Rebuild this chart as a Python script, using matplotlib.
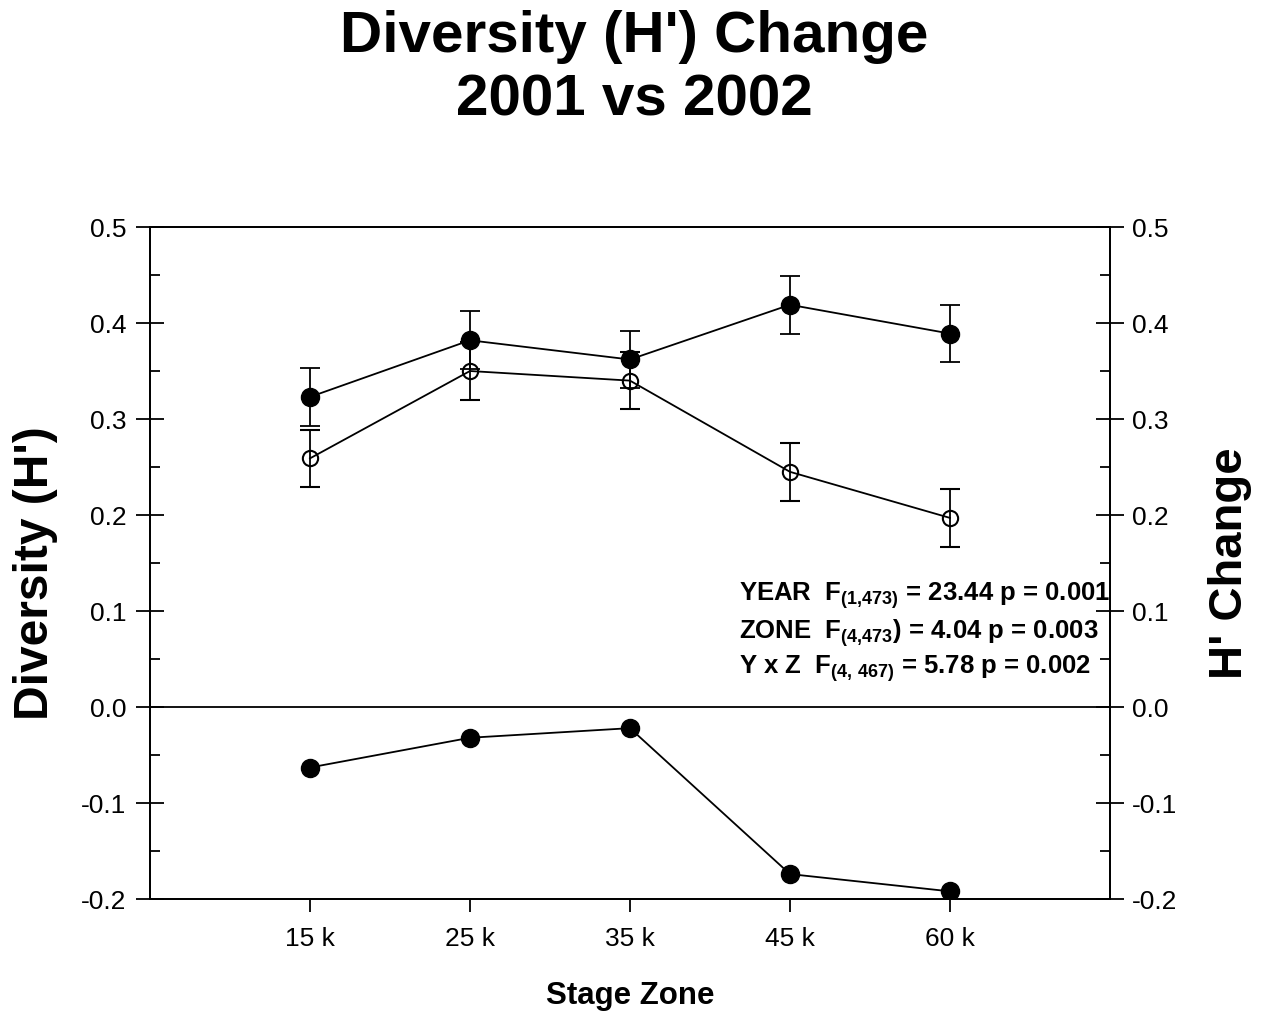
import matplotlib
matplotlib.use("Agg")
import matplotlib.pyplot as plt
from matplotlib.ticker import MultipleLocator
import numpy as np

plt.rcParams['font.family'] = ['Liberation Sans', 'DejaVu Sans']
plt.rcParams['mathtext.fontset'] = 'custom'
plt.rcParams['mathtext.rm'] = 'Liberation Sans:bold'
plt.rcParams['mathtext.bf'] = 'Liberation Sans:bold'
plt.rcParams['mathtext.it'] = 'Liberation Sans:bold'

zones = ["15 k", "25 k", "35 k", "45 k", "60 k"]
h_2001 = [0.323, 0.382, 0.362, 0.419, 0.389]
err_2001 = [0.03, 0.03, 0.03, 0.03, 0.03]
h_2002 = [0.259, 0.350, 0.340, 0.245, 0.197]
err_2002 = [0.03, 0.03, 0.03, 0.03, 0.03]
h_change = [-0.063, -0.032, -0.022, -0.174, -0.192]

x = np.arange(1, len(zones) + 1)

fig = plt.figure(figsize=(12.72, 10.13), dpi=100)
ax = fig.add_axes([0.1179, 0.1125, 0.7547, 0.6634])

ax.errorbar(x, h_2001, yerr=err_2001, fmt='o', color='black', markersize=13,
            capsize=7, elinewidth=1.3, capthick=1.3, zorder=3)
ax.plot(x, h_2001, color='black', lw=1.3, zorder=2)
ax.errorbar(x, h_2002, yerr=err_2002, fmt='o', mfc='none', mec='black', mew=1.5,
            color='black', markersize=11, capsize=7, elinewidth=1.3,
            capthick=1.3, zorder=3)
ax.plot(x, h_2002, color='black', lw=1.3, zorder=2)
ax.plot(x, h_change, 'o-', color='black', markersize=13, lw=1.3, zorder=3)

ax.axhline(0, color='black', lw=1.3, zorder=1)

ax.set_xlim(0, 6)
ax.set_ylim(-0.2, 0.5)
ax.set_xticks(x)
ax.set_xticklabels(zones)
ax.yaxis.set_major_locator(MultipleLocator(0.1))
ax.yaxis.set_minor_locator(MultipleLocator(0.05))
ax.set_yticklabels([f"{v:.1f}" for v in ax.get_yticks()])

for s in ax.spines.values():
    s.set_linewidth(1.3)

ax.tick_params(axis='y', which='major', direction='inout', length=20, width=1.3,
               labelsize=19, pad=7)
ax.tick_params(axis='y', which='minor', direction='in', length=7, width=1.3)
ax.tick_params(axis='x', which='major', direction='out', length=9, width=1.3,
               labelsize=19, pad=11)

ax2 = ax.twinx()
ax2.set_ylim(ax.get_ylim())
ax2.yaxis.set_major_locator(MultipleLocator(0.1))
ax2.yaxis.set_minor_locator(MultipleLocator(0.05))
ax2.set_yticklabels([f"{v:.1f}" for v in ax2.get_yticks()])
ax2.tick_params(axis='y', which='major', direction='inout', length=20, width=1.3,
                labelsize=19, pad=6)
ax2.tick_params(axis='y', which='minor', direction='in', length=7, width=1.3)
for s in ax2.spines.values():
    s.set_linewidth(1.3)

ax.set_ylabel("Diversity (H')", fontsize=34.5, fontweight='bold')
ax.yaxis.set_label_coords(-0.096, 0.485)
ax2.set_ylabel("H' Change", fontsize=34, fontweight='bold', labelpad=22)
ax.set_xlabel("Stage Zone", fontsize=22.5, fontweight='bold', labelpad=22)

fig.text(0.4985, 1 - 37 / 1013, "Diversity (H') Change", fontsize=42,
         fontweight='bold', ha='center', va='center')
fig.text(0.4985, 1 - 100 / 1013, "2001 vs 2002", fontsize=42,
         fontweight='bold', ha='center', va='center')

stats = [
    r"YEAR  F$_{(1{,}473)}$ = 23.44 p = 0.001",
    r"ZONE  F$_{(4{,}473}$) = 4.04 p = 0.003",
    r"Y x Z  F$_{(4{,}\ 467)}$ = 5.78 p = 0.002",
]
ys = [0.1165, 0.0765, 0.0395]
for txt, yv in zip(stats, ys):
    ax.text(3.68, yv, txt, fontsize=18.5, fontweight='bold',
            ha='left', va='center')

fig.savefig("out.png", dpi=100)
